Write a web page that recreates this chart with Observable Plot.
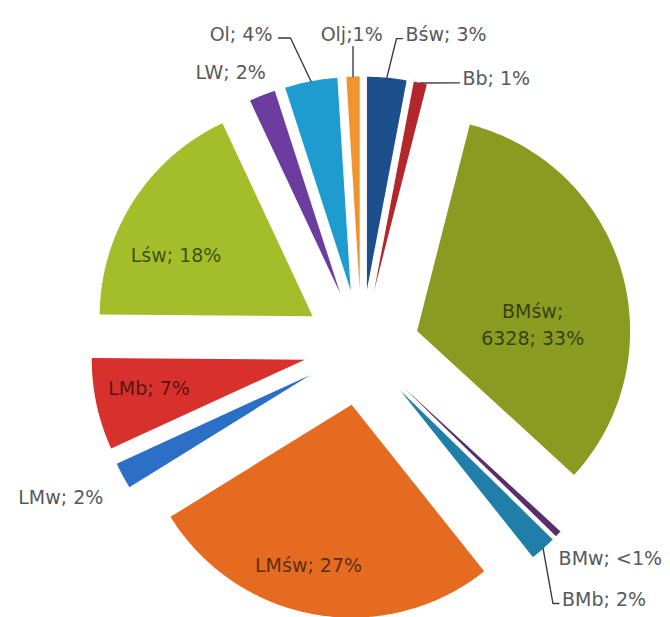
<!DOCTYPE html>
<html><head><meta charset="utf-8">
<script src="https://cdn.jsdelivr.net/npm/d3@7"></script>
<script src="https://cdn.jsdelivr.net/npm/@observablehq/plot@0.6"></script>
<style>body{margin:0;background:#fff}</style>
</head><body><div id="chart"></div>
<script>
// ---- data ----
const categories = ["Bśw","Bb","BMśw","BMw","BMb","LMśw","LMw","LMb","Lśw","LW","Ol","Olj"];
const shares = [3, 1, 33, 0.5, 2, 27, 2, 7, 18, 2, 4, 1];
const labelTexts = ["Bśw; 3%","Bb; 1%","BMśw;\n6328; 33%","BMw; <1%","BMb; 2%","LMśw; 27%","LMw; 2%","LMb; 7%","Lśw; 18%","LW; 2%","Ol; 4%","Olj;1%"];
const colors = ["#1d4f8c","#b3262b","#8a9b22","#5a2d6e","#1f7fa8","#e46b1f","#2b6fc7","#d8302c","#a3bd2b","#6c3d9e","#1f9ccf","#f0932c"];

// ---- layout ----
const W = 670, H = 617, CX = 361, CY = 347, R = 213, EXPLODE = 58;
// label placement: polar from pie centre (deg clockwise from north, distance px), anchor, inside, leader
const labelPlace = {
  "Bśw":  [8.0, 316, "start", false, true],
  "Bb":   [20.6, 287, "start", false, true],
  "BMśw": [81.7, 173, "middle", true, false],
  "BMw":  [137.0, 289, "start", false, false],
  "BMb":  [141.5, 322, "start", false, true],
  "LMśw": [193.8, 222, "middle", true, false],
  "LMw":  [243.5, 336, "middle", false, false],
  "LMb":  [259.6, 216, "middle", true, false],
  "Lśw":  [296.9, 208, "middle", true, false],
  "LW":   [340.8, 291, "end", false, false],
  "Ol":   [344.1, 325, "end", false, true],
  "Olj":  [358.2, 313, "middle", false, true]
};

const rad = Math.PI / 180;
const pt = (ox, oy, a, r) => ({x: ox + r * Math.sin(a), y: oy - r * Math.cos(a)});
const arcs = d3.pie().sort(null).value((d, i) => shares[i])(categories);

const slicePts = [];
const leaderPts = [];
const labels = [];
arcs.forEach(a => {
  const name = a.data;
  const mid = (a.startAngle + a.endAngle) / 2;
  const apex = pt(CX, CY, mid, EXPLODE);
  const n = Math.max(2, Math.ceil((a.endAngle - a.startAngle) / (0.5 * rad)));
  slicePts.push({name, ...apex});
  for (let k = 0; k <= n; k++) {
    const t = a.startAngle + (a.endAngle - a.startAngle) * k / n;
    slicePts.push({name, ...pt(apex.x, apex.y, t, R)});
  }
  const [deg, dist, anchor, inside, leader] = labelPlace[name];
  const lp = pt(CX, CY, deg * rad, dist);
  labels.push({name, text: labelTexts[categories.indexOf(name)], x: lp.x, y: lp.y, anchor, inside});
  if (leader) {
    const p0 = pt(apex.x, apex.y, mid, R);
    leaderPts.push({name, ...p0});
    if (anchor === "start") {
      leaderPts.push({name, x: lp.x - 9, y: lp.y + 4});
      leaderPts.push({name, x: lp.x - 3, y: lp.y + 4});
    } else if (anchor === "end") {
      leaderPts.push({name, x: lp.x + 18, y: lp.y + 3});
      leaderPts.push({name, x: lp.x + 6, y: lp.y + 3});
    } else {
      leaderPts.push({name, x: p0.x, y: lp.y + 12});
    }
  }
});

const font = "DejaVu Sans";
const chart = Plot.plot({
  width: W, height: H, margin: 0,
  x: {domain: [0, W], range: [0, W], axis: null},
  y: {domain: [0, H], range: [0, H], axis: null},
  color: {domain: categories, range: colors},
  style: {background: "#fff"},
  marks: [
    Plot.line(slicePts, {x: "x", y: "y", z: "name", fill: "name", stroke: "none", curve: "linear-closed"}),
    Plot.line(leaderPts, {x: "x", y: "y", z: "name", stroke: "#3a3a3a", strokeWidth: 1.4}),
    ...["start", "middle", "end"].map(anc =>
      Plot.text(labels.filter(d => !d.inside && d.anchor === anc), {
        x: "x", y: "y", text: "text", textAnchor: anc, lineAnchor: "middle",
        fill: "#595959", fontSize: 19, fontFamily: font
      })),
    Plot.text(labels.filter(d => d.inside), {
      x: "x", y: "y", text: "text", textAnchor: "middle", lineAnchor: "middle",
      fill: "#000", fillOpacity: 0.6, fontSize: 19, fontFamily: font, lineHeight: 1.45
    })
  ]
});
document.getElementById("chart").append(chart);
</script>
</body></html>
